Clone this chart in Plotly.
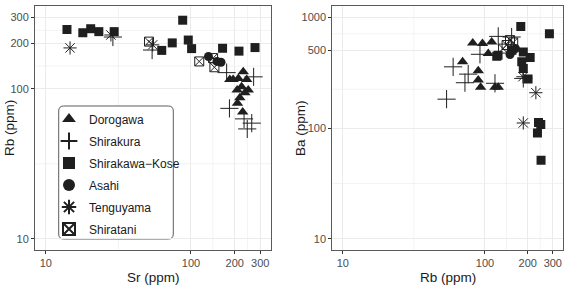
import plotly.graph_objects as go

# ---------------- data (left panel: Sr vs Rb) ----------------
dorogawa_sr = [229, 185, 212, 242, 248, 208, 223, 217, 209, 227, 195, 235]
dorogawa_rb = [130, 115, 117, 115, 98, 98, 103, 87, 80, 70, 115, 94]
shirakura_sr = [29, 54, 176, 270, 184, 232, 262, 244]
shirakura_rb = [221, 181, 128, 120, 74, 63, 59, 54]
kose_sr = [14, 18, 20.4, 23.2, 29.6, 87.7, 95.8, 101, 74.3, 62.9, 165, 214, 276]
kose_rb = [248, 236, 251, 240, 240, 286, 211, 185, 202, 180, 186, 178, 188]
asahi_sr = [132, 151, 161]
asahi_rb = [164, 152, 150]
tengu_sr = [14.7, 28.1, 54.5]
tengu_rb = [187, 228, 196]
shiratani_sr = [51.4, 114, 142, 145]
shiratani_rb = [206, 152, 160, 139]

# ---------------- data (right panel: Rb vs Ba) ----------------
dorogawa_rb2 = [82, 96, 111.5, 105.5, 69.6, 89.7, 89.7, 93.2, 117.6, 124]
dorogawa_ba = [584, 577, 596, 469, 395, 328, 271, 233, 233, 233]
shirakura_rb2 = [53.7, 59.7, 76.2, 72.3, 92.2, 124, 154, 117.6, 186]
shirakura_ba = [182, 356, 306, 256, 462, 670, 661, 253, 280]
kose_rb2 = [178.6, 284, 121, 186, 208, 181.5, 186, 201, 238, 247, 234, 248, 155, 123.6]
kose_ba = [824, 709, 444, 485, 432, 395, 344, 276, 112, 107.7, 90.2, 51.3, 502, 453]
asahi_rb2 = [164, 152, 150]
asahi_ba = [520, 480, 460]
tengu_rb2 = [228, 186, 185]
tengu_ba = [208, 111, 290]
shiratani_rb2 = [150, 142, 134, 158]
shiratani_ba = [620, 560, 520, 590]

names = ["Dorogawa", "Shirakura", "Shirakawa\u2212Kose", "Asahi", "Tenguyama", "Shiratani"]
left = [(dorogawa_sr, dorogawa_rb), (shirakura_sr, shirakura_rb), (kose_sr, kose_rb),
        (asahi_sr, asahi_rb), (tengu_sr, tengu_rb), (shiratani_sr, shiratani_rb)]
right = [(dorogawa_rb2, dorogawa_ba), (shirakura_rb2, shirakura_ba), (kose_rb2, kose_ba),
         (asahi_rb2, asahi_ba), (tengu_rb2, tengu_ba), (shiratani_rb2, shiratani_ba)]

x_ticks = [10, 100, 200, 300]
left_y_ticks = [10, 100, 200, 300]
right_y_ticks = [10, 100, 500, 1000]
minor_x = [31.62, 141.4, 244.9]
left_minor_y = [31.62, 141.4, 244.9]
right_minor_y = [31.62, 223.6, 707.1]

INK = "#1f1f1f"
styles = [
    dict(symbol="triangle-up", size=10, color=INK),
    dict(symbol="cross-thin-open", size=13, color=INK, line=dict(color=INK, width=1)),
    dict(symbol="square", size=9, color=INK),
    dict(symbol="circle", size=9, color=INK),
    dict(symbol="asterisk-open", size=11, color=INK, line=dict(color=INK, width=1)),
    dict(symbol="square-x-open", size=9, color=INK, line=dict(color=INK, width=1)),
]

fig = go.Figure()
for nm, (xs, ys), st in zip(names, left, styles):
    fig.add_trace(go.Scatter(x=xs, y=ys, mode="markers", name=nm, marker=st,
                             xaxis="x", yaxis="y", legendgroup=nm, showlegend=True))
for nm, (xs, ys), st in zip(names, right, styles):
    fig.add_trace(go.Scatter(x=xs, y=ys, mode="markers", name=nm, marker=st,
                             xaxis="x2", yaxis="y2", legendgroup=nm, showlegend=False))

W, H = 567, 289
GRID = "#ebebeb"
BORDER = "#5a5a5a"
TICKF = dict(family="Liberation Sans, Arial, sans-serif", size=11, color="#4d4d4d")

def xd(a, b):
    return [a / W, b / W]

def yd(top, bot):
    return [1 - bot / H, 1 - top / H]

def axis(domain, rng, ticks, anchor):
    return dict(type="log", domain=domain, range=rng, tickmode="array", tickvals=ticks,
                ticktext=[str(t) for t in ticks], showgrid=True, gridcolor=GRID, gridwidth=1,
                ticks="outside", ticklen=3, tickcolor="#333333", tickwidth=1,
                showline=True, linecolor=BORDER, linewidth=1, mirror=True, tickangle=0,
                zeroline=False, tickfont=TICKF, anchor=anchor, automargin=False)

fig.update_layout(
    width=W, height=H, margin=dict(l=0, r=0, t=0, b=0, autoexpand=False),
    paper_bgcolor="white", plot_bgcolor="white",
    xaxis=axis(xd(35, 271), [0.926, 2.551], x_ticks, "y"),
    yaxis=axis(yd(6, 250), [0.926, 2.551], left_y_ticks, "x"),
    xaxis2=axis(xd(332.3, 563.3), [0.926, 2.551], x_ticks, "y2"),
    yaxis2=axis(yd(6, 250), [0.9, 3.1], right_y_ticks, "x2"),
    legend=dict(xref="paper", yref="paper", x=49 / W, y=1 - 104.5 / H,
                xanchor="left", yanchor="top", bgcolor="rgba(0,0,0,0)", borderwidth=0,
                font=dict(family="Liberation Sans, Arial, sans-serif", size=12, color="#1a1a1a"),
                tracegroupgap=3, itemsizing="constant"),
    showlegend=True,
)

# minor gridlines
for xa, ya, mx, my in [("x", "y", minor_x, left_minor_y), ("x2", "y2", minor_x, right_minor_y)]:
    for v in mx:
        fig.add_shape(type="line", xref=xa, yref=f"{ya} domain", x0=v, x1=v, y0=0, y1=1,
                      layer="below", line=dict(color=GRID, width=0.6))
    for v in my:
        fig.add_shape(type="line", xref=f"{xa} domain", yref=ya, x0=0, x1=1, y0=v, y1=v,
                      layer="below", line=dict(color=GRID, width=0.6))

# rounded legend frame
x0, x1, y0, y1 = 58.7, 173.3, 106, 239
r = 5
def P(px, py):
    return f"{px / W:.5f},{1 - py / H:.5f}"
path = (f"M {P(x0 + r, y0)} L {P(x1 - r, y0)} Q {P(x1, y0)} {P(x1, y0 + r)} "
        f"L {P(x1, y1 - r)} Q {P(x1, y1)} {P(x1 - r, y1)} L {P(x0 + r, y1)} "
        f"Q {P(x0, y1)} {P(x0, y1 - r)} L {P(x0, y0 + r)} Q {P(x0, y0)} {P(x0 + r, y0)} Z")
fig.add_shape(type="path", path=path, xref="paper", yref="paper", layer="between",
              fillcolor="white", line=dict(color="#333333", width=0.8))

TF = dict(family="Liberation Sans, Arial, sans-serif", size=13.5, color="#1a1a1a")
fig.add_annotation(text="Sr (ppm)", x=(35 + 271) / 2 / W, y=1 - 277 / H, xref="paper", yref="paper",
                   showarrow=False, font=TF, xanchor="center", yanchor="middle")
fig.add_annotation(text="Rb (ppm)", x=(332.3 + 563.3) / 2 / W, y=1 - 277 / H, xref="paper", yref="paper",
                   showarrow=False, font=TF, xanchor="center", yanchor="middle")
fig.add_annotation(text="Rb (ppm)", x=9 / W, y=1 - 128 / H, xref="paper", yref="paper",
                   showarrow=False, font=TF, textangle=-90, xanchor="center", yanchor="middle")
fig.add_annotation(text="Ba (ppm)", x=300 / W, y=1 - 128 / H, xref="paper", yref="paper",
                   showarrow=False, font=TF, textangle=-90, xanchor="center", yanchor="middle")

fig.write_html("out.html")
